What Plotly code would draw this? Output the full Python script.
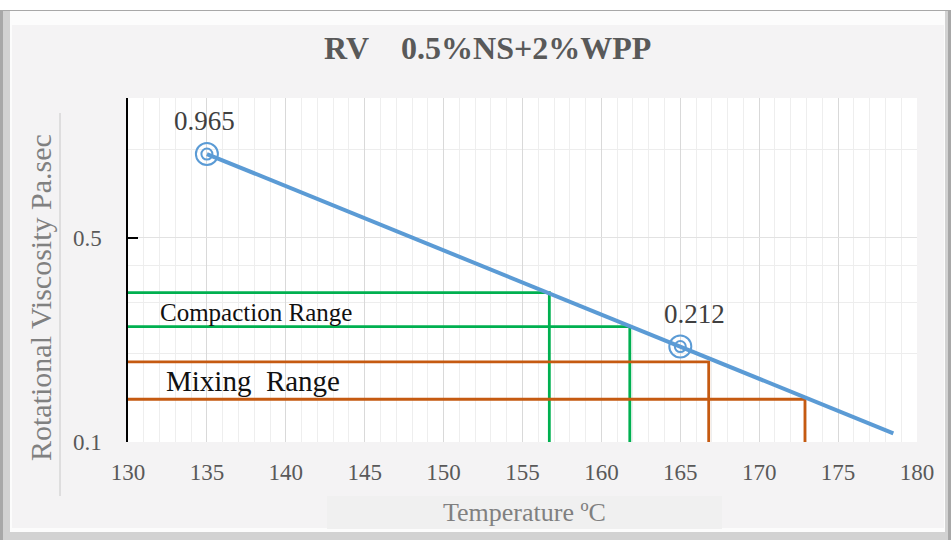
import math
import plotly.graph_objects as go

# ---- data ----
temps = [135, 165]
visc = [0.965, 0.212]
point_labels = ["0.965", "0.212"]
trend_temps = [135, 178.5]
trend_visc = [0.965, 0.107]
compaction_temps = [156.7, 161.8]
compaction_visc = [0.324, 0.248]
mixing_temps = [166.8, 172.9]
mixing_visc = [0.188, 0.140]
x_ticks = [130, 135, 140, 145, 150, 155, 160, 165, 170, 175, 180]
y_ticks = [0.1, 0.5]
y_minor = [0.2, 0.3, 0.4, 1.0]

X0, X1 = 130, 180
Y0, Y1 = 0.1, 1.5

BLUE = "#5B9BD5"
GREEN = "#00B050"
ORANGE = "#C55A11"
SERIF = "Liberation Serif, Times New Roman, serif"

W, H = 951, 540
L, R, T, B = 128, 917, 98, 442


def px(x):
    return (x - L) / (R - L)


def py(y):
    return (B - y) / (B - T)


fig = go.Figure()

# range guide lines
for t, v in zip(compaction_temps, compaction_visc):
    fig.add_trace(go.Scatter(x=[X0, t, t], y=[v, v, Y0], mode="lines",
                             line=dict(color=GREEN, width=2.8),
                             hoverinfo="skip", showlegend=False))
for t, v in zip(mixing_temps, mixing_visc):
    fig.add_trace(go.Scatter(x=[X0, t, t], y=[v, v, Y0], mode="lines",
                             line=dict(color=ORANGE, width=2.8),
                             hoverinfo="skip", showlegend=False))

# trend line
fig.add_trace(go.Scatter(x=trend_temps, y=trend_visc, mode="lines",
                         line=dict(color=BLUE, width=4), showlegend=False))
# double-circle markers
fig.add_trace(go.Scatter(x=temps, y=visc, mode="markers",
                         marker=dict(symbol="circle-open", size=22, color=BLUE,
                                     line=dict(width=2, color=BLUE)),
                         showlegend=False))
fig.add_trace(go.Scatter(x=temps, y=visc, mode="markers",
                         marker=dict(symbol="circle-open", size=11, color=BLUE,
                                     line=dict(width=2, color=BLUE)),
                         showlegend=False))

# point value labels (log axis -> annotation y in log10 units)
for t, v, lab in zip(temps, visc, point_labels):
    fig.add_annotation(x=t, y=math.log10(v), text=lab, showarrow=False,
                       xanchor="center", yanchor="middle",
                       xshift=-2 if t == 135 else 14, yshift=33,
                       font=dict(family=SERIF, size=27, color="#404040"))


def paper_text(x, y, text, size, color, angle=0):
    fig.add_annotation(x=px(x), y=py(y), xref="paper", yref="paper", text=text,
                       showarrow=False, xanchor="center", yanchor="middle",
                       textangle=angle, font=dict(family=SERIF, size=size, color=color))


paper_text(256, 312, "Compaction Range", 25, "#111111")
paper_text(253, 381, "Mixing\u00a0\u00a0Range", 29, "#111111")
paper_text(487, 48, "<b>RV\u00a0\u00a0\u00a0 0.5%NS+2%WPP</b>", 32, "#595959")
paper_text(524, 512, "Temperature ºC", 26, "#808080")
paper_text(40, 298, "Rotational Viscosity Pa.sec", 30, "#808080", angle=-90)


# frame / background shapes
def rect(x0, y0, x1, y1, fill):
    fig.add_shape(type="rect", xref="paper", yref="paper", layer="below",
                  x0=px(x0), x1=px(x1), y0=py(y1), y1=py(y0),
                  fillcolor=fill, line=dict(width=0))


rect(0, 10, 951, 540, "#A8A8A8")
rect(3, 11, 948, 540, "#D2D2D2")
rect(10, 11, 945, 532, "#FCFCFC")
rect(12, 25, 944, 528, "#F4F3F4")
rect(327, 496, 722, 529, "#F0F0F0")
rect(L, T, R, B, "#FFFFFF")
fig.add_shape(type="line", xref="paper", yref="paper", layer="below",
              x0=px(60), x1=px(60), y0=py(496), y1=py(113),
              line=dict(color="#C8C8C8", width=1))

fig.update_xaxes(range=[X0, X1], tickvals=x_ticks, ticktext=[str(v) for v in x_ticks],
                 showgrid=True, gridcolor="#D9D9D9", gridwidth=1,
                 minor=dict(dtick=1, tick0=130, showgrid=True, gridcolor="#EEEEEE", ticks=""),
                 showline=False, zeroline=False, ticks="", ticklabelstandoff=14,
                 tickfont=dict(family=SERIF, size=23, color="#595959"))
fig.update_yaxes(type="log", range=[-1, 0.17609], tickvals=y_ticks,
                 ticktext=["0.1", "0.5"],
                 showgrid=True, gridcolor="#E2E2E2", gridwidth=1,
                 minor=dict(tickvals=y_minor, showgrid=True, gridcolor="#EDEDED", ticks=""),
                 showline=True, linecolor="black", linewidth=1.5,
                 ticks="inside", ticklen=10, tickcolor="black", tickwidth=1.5,
                 ticklabelstandoff=20, zeroline=False,
                 tickfont=dict(family=SERIF, size=23, color="#595959"))

fig.update_layout(width=W, height=H, margin=dict(l=L, r=W - R, t=T, b=H - B),
                  paper_bgcolor="white", plot_bgcolor="white", showlegend=False)

fig.write_html("out.html", config={"displayModeBar": False},
               post_script="document.body.style.margin='0';document.body.style.overflow='hidden';")
